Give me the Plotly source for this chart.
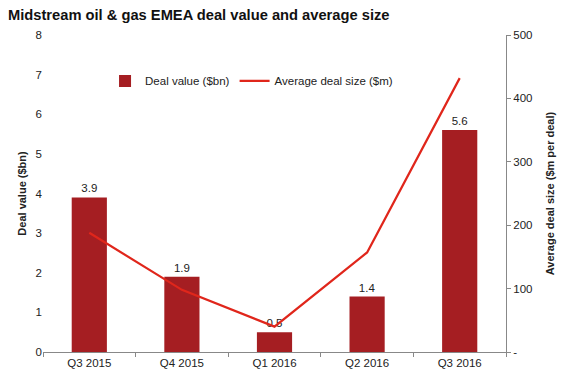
import plotly.graph_objects as go

categories = ["Q3 2015", "Q4 2015", "Q1 2016", "Q2 2016", "Q3 2016"]
deal_value = [3.9, 1.9, 0.5, 1.4, 5.6]
avg_deal_size = [188, 98, 40, 157, 432]
right_tickvals = [0, 100, 200, 300, 400, 500]
right_ticktext = ["-", "100", "200", "300", "400", "500"]

fig = go.Figure()
fig.add_trace(go.Bar(
    x=categories, y=deal_value, name="Deal value ($bn)",
    marker=dict(color="#A51E22", line=dict(width=0)),
    text=[f"{v:.1f}" for v in deal_value], textposition="outside",
    textfont=dict(size=11.5, color="#222"), cliponaxis=False,
))
fig.add_trace(go.Scatter(
    x=categories, y=avg_deal_size, name="Average deal size ($m)",
    mode="lines", line=dict(color="#E0261B", width=2.2), yaxis="y2",
))

font = "Liberation Sans, Arial, sans-serif"
fig.update_layout(
    width=562, height=368,
    margin=dict(l=35, r=64, t=27, b=24),
    paper_bgcolor="white", plot_bgcolor="white",
    font=dict(family=font, size=11.5, color="#222"),
    title=dict(text="<b>Midstream oil & gas EMEA deal value and average size</b>",
               x=0.0, xanchor="left", y=0.995, yanchor="top",
               font=dict(size=14.7, color="#111")),
    bargap=0.62,
    showlegend=True,
    legend=dict(orientation="h", x=0.134, y=0.855, xanchor="left", yanchor="middle",
                font=dict(size=11.5), bgcolor="rgba(0,0,0,0)", itemwidth=30,
                traceorder="normal"),
    xaxis=dict(showline=True, linecolor="#888", ticks="outside", tickson="boundaries",
               ticklen=4, tickcolor="#888", showgrid=False, automargin=False),
    yaxis=dict(range=[0, 8], dtick=1, showgrid=False, showline=False, ticks="",
               zeroline=False, automargin=False,
               title=dict(text="<b>Deal value ($bn)</b>", font=dict(size=11), standoff=6)),
    yaxis2=dict(range=[0, 500], overlaying="y", side="right", showgrid=False,
                tickvals=right_tickvals, ticktext=right_ticktext,
                showline=True, linecolor="#888", ticks="outside", ticklen=4, tickcolor="#888",
                zeroline=False, automargin=False,
                title=dict(text="<b>Average deal size ($m per deal)</b>", font=dict(size=11), standoff=14)),
)

fig.write_html("out.html")
